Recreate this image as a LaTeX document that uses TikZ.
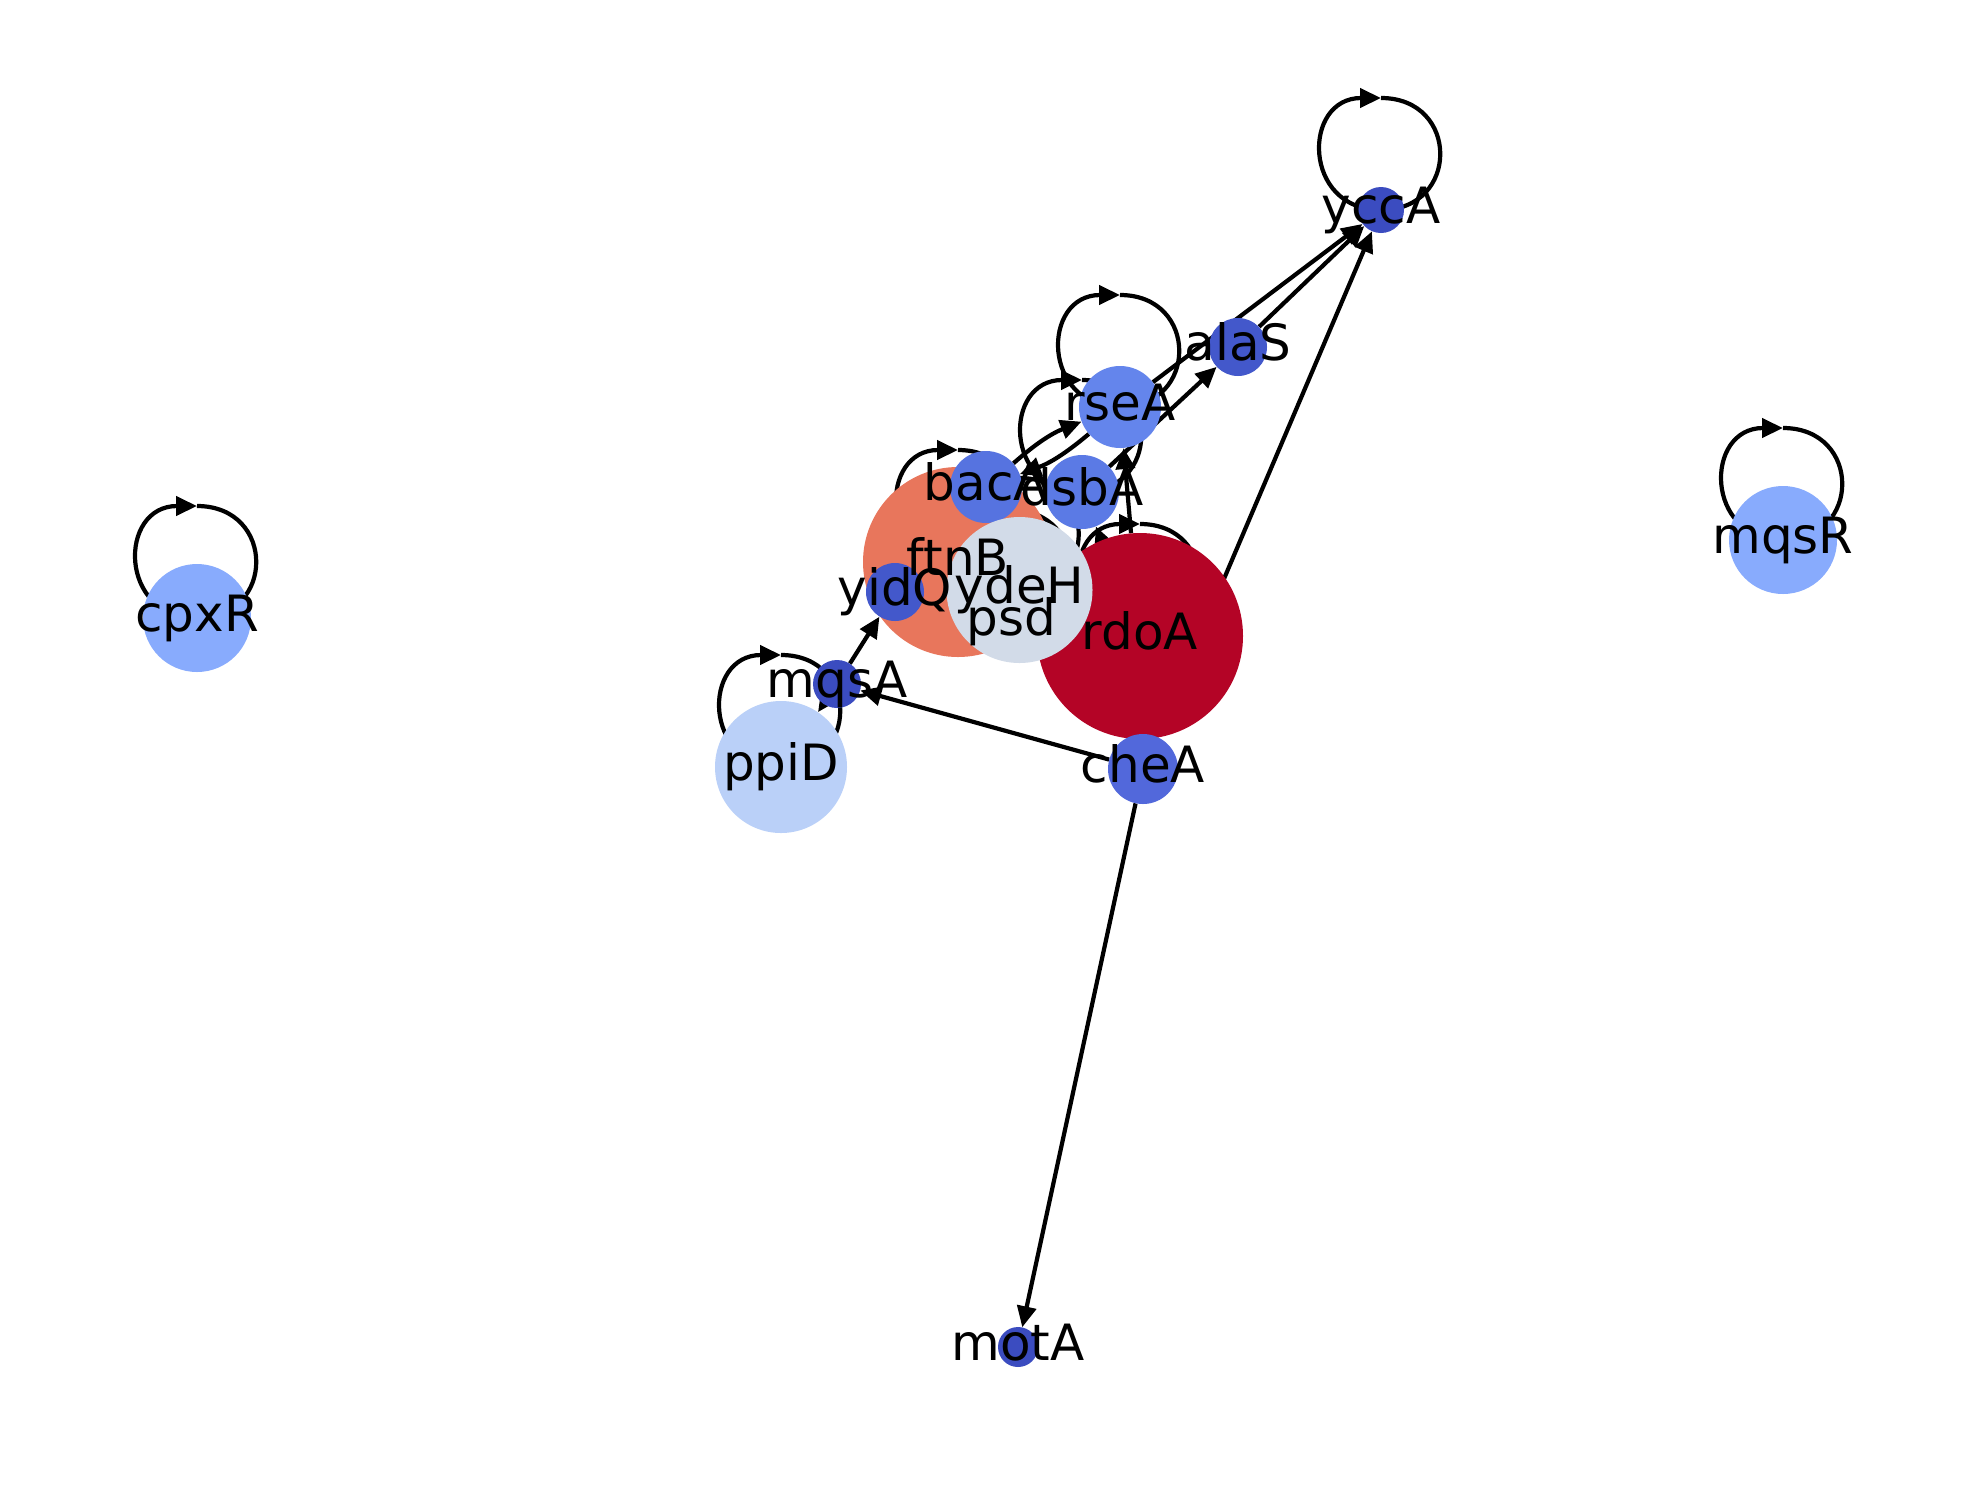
\documentclass[tikz,border=0pt]{standalone}
\usepackage{fontspec}
\setmainfont{DejaVu Sans}
\usetikzlibrary{arrows.meta,calc,backgrounds}
\definecolor{cA}{HTML}{3B4CC0}
\definecolor{cB}{HTML}{4358CB}
\definecolor{cC}{HTML}{5268DB}
\definecolor{cD}{HTML}{5673E0}
\definecolor{cE}{HTML}{5B7AE5}
\definecolor{cF}{HTML}{6485EC}
\definecolor{cG}{HTML}{88ABFD}
\definecolor{cH}{HTML}{BAD0F8}
\definecolor{cI}{HTML}{D2DBE8}
\definecolor{cJ}{HTML}{E8765C}
\definecolor{cK}{HTML}{B40426}
\newcommand{\gloop}[1]{\draw[edge] ($(#1.center)+(0,-112)$) .. controls ($(#1.center)+(79,-112)$) and ($(#1.center)+(79,0)$) .. (#1.center) .. controls ($(#1.center)+(-79,0)$) and ($(#1.center)+(-79,-112)$) .. ($(#1.center)+(0,-112)$);}
\begin{document}
\begin{tikzpicture}[x=1pt,y=-1pt,
  nd/.style={circle,draw=none,inner sep=0pt,minimum size=#1},
  lbl/.style={inner sep=0pt,font=\fontsize{50}{60}\selectfont,text height=38pt,text depth=11.8pt},
  edge/.style={draw=black,line width=4.2pt,-{Triangle[length=21pt,width=19pt]}}]
\useasboundingbox (0,0) rectangle (1980,1500);
% circles (drawing order matters)
\node[nd=190pt,fill=cJ] (ftnB) at (958,562) {};
\node[nd=206pt,fill=cK] (rdoA) at (1140,636) {};
\node[nd=72pt,fill=cD] (bacA) at (986,487) {};
\node[nd=74pt,fill=cE] (dsbA) at (1082,492) {};
\node[nd=82pt,fill=cF] (rseA) at (1120,407) {};
\node[nd=60pt,fill=cI] (psd) at (1011,622) {};
\node[nd=146pt,fill=cI] (ydeH) at (1019.5,590) {};
\node[nd=58pt,fill=cB] (yidQ) at (895,592) {};
\node[nd=58pt,fill=cB] (alaS) at (1238,347) {};
\node[nd=46pt,fill=cA] (yccA) at (1381,210) {};
\node[nd=70pt,fill=cC] (cheA) at (1143,769) {};
\node[nd=48pt,fill=cA] (mqsA) at (837,684) {};
\node[nd=132pt,fill=cH] (ppiD) at (781,767) {};
\node[nd=40pt,fill=cA] (motA) at (1018,1347) {};
\node[nd=108pt,fill=cG] (cpxR) at (197,618) {};
\node[nd=108pt,fill=cG] (mqsR) at (1783,540) {};
% edges beneath the nodes
\begin{pgfonlayer}{background}
\fill[white] (0,0) rectangle (1980,1500);
\draw[edge] (rseA) -- (yccA);
\draw[edge] (alaS) -- (yccA);
\draw[edge] (cheA) -- (yccA);
\draw[edge] (dsbA) -- (alaS);
\draw[edge] (bacA) to[bend left=10] (rseA);
\draw[edge] (rseA) to[bend left=10] (bacA);
\draw[edge] (rdoA) -- (rseA);
\draw[edge] (rdoA) -- (dsbA);
\draw[edge] (cheA) -- (mqsA);
\draw[edge] (cheA) -- (motA);
\draw[edge] (mqsA) -- (yidQ);
\draw[edge] (mqsA) -- (ppiD);
\gloop{yccA}
\gloop{rseA}
\gloop{dsbA}
\gloop{ftnB}
\gloop{rdoA}
\gloop{ppiD}
\gloop{ydeH}
\gloop{psd}
\gloop{cpxR}
\gloop{mqsR}
\end{pgfonlayer}
% labels on top
\node[lbl] (l-ftnB) at (ftnB) {ftnB};
\node[lbl] (l-rdoA) at (rdoA) {rdoA};
\node[lbl] (l-bacA) at (bacA) {bacA};
\node[lbl] (l-dsbA) at (dsbA) {dsbA};
\node[lbl] (l-rseA) at (rseA) {rseA};
\node[lbl] (l-ydeH) at (ydeH) {ydeH};
\node[lbl] (l-psd) at (psd) {psd};
\node[lbl] (l-yidQ) at (yidQ) {yidQ};
\node[lbl] (l-alaS) at (alaS) {alaS};
\node[lbl] (l-yccA) at (yccA) {yccA};
\node[lbl] (l-cheA) at (cheA) {cheA};
\node[lbl] (l-mqsA) at (mqsA) {mqsA};
\node[lbl] (l-ppiD) at (ppiD) {ppiD};
\node[lbl] (l-motA) at (motA) {motA};
\node[lbl] (l-cpxR) at (cpxR) {cpxR};
\node[lbl] (l-mqsR) at (mqsR) {mqsR};
\end{tikzpicture}
\end{document}
